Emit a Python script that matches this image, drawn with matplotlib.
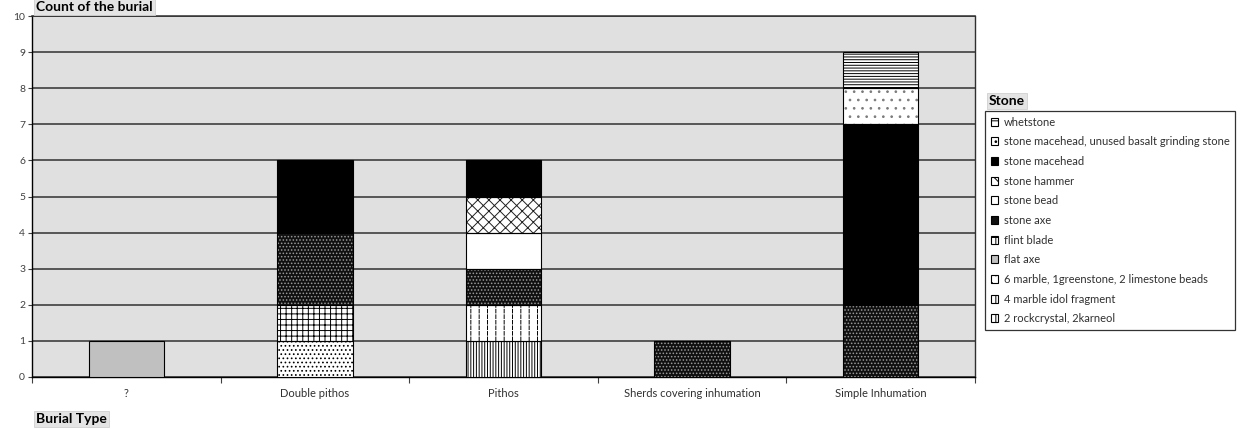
import matplotlib
matplotlib.use("Agg")
import matplotlib.pyplot as plt
from matplotlib.patches import Patch
import numpy as np

plt.rcParams['font.family'] = ['Lato', 'DejaVu Sans']
plt.rcParams['hatch.linewidth'] = 0.7

categories = ['?', 'Double pithos', 'Pithos', 'Sherds covering inhumation', 'Simple Inhumation']

# stone finds per burial type, listed from the bottom of each stack upward
rockcrystal_karneol = [0, 0, 1, 0, 0]
marble_idol_fragment = [0, 0, 1, 0, 0]
marble_greenstone_beads = [0, 1, 0, 0, 0]
flat_axe = [1, 0, 0, 0, 0]
flint_blade = [0, 1, 0, 0, 0]
stone_axe = [0, 2, 1, 1, 2]
stone_bead = [0, 0, 1, 0, 0]
stone_hammer = [0, 0, 1, 0, 0]
stone_macehead = [0, 2, 1, 0, 5]
macehead_basalt_stone = [0, 0, 0, 0, 1]
whetstone = [0, 0, 0, 0, 1]

series_names = ['2 rockcrystal, 2karneol', '4 marble idol fragment',
                '6 marble, 1greenstone, 2 limestone beads', 'flat axe', 'flint blade',
                'stone axe', 'stone bead', 'stone hammer', 'stone macehead',
                'stone macehead, unused basalt grinding stone', 'whetstone']
series_values = [rockcrystal_karneol, marble_idol_fragment, marble_greenstone_beads,
                 flat_axe, flint_blade, stone_axe, stone_bead, stone_hammer,
                 stone_macehead, macehead_basalt_stone, whetstone]

y_ticks = [0, 1, 2, 3, 4, 5, 6, 7, 8, 9, 10]

# fill pattern for each series: face colour, then hatch layers (pattern, colour)
fills = [
    ('white', [('||||||', 'black')]),
    ('white', [('||', 'black'), ('---', 'white')]),
    ('white', [('....', 'black')]),
    ('#c0c0c0', []),
    ('white', [('+++', 'black')]),
    ('#101010', [('.....', '#9a9a9a')]),
    ('white', []),
    ('white', [('xxx', '#202020')]),
    ('black', []),
    ('white', [('..', '#7a7a7a')]),
    ('white', [('------', 'black')]),
]

W, H = 1248, 429
fig = plt.figure(figsize=(W / 100, H / 100), dpi=100)
fig.patch.set_facecolor('white')
ax = fig.add_axes([32 / W, 1 - 377 / H, (975 - 32) / W, (377 - 16) / H])
ax.set_facecolor('#e0e0e0')

x = np.arange(len(categories))
bottom = np.zeros(len(categories))
bar_w = 0.4
for vals, (face, layers) in zip(series_values, fills):
    v = np.array(vals, dtype=float)
    m = v > 0
    ax.bar(x[m], v[m], bar_w, bottom=bottom[m], color=face, linewidth=0, zorder=3)
    for hatch, hc in layers:
        ax.bar(x[m], v[m], bar_w, bottom=bottom[m], facecolor='none',
               edgecolor=hc, hatch=hatch, linewidth=0, zorder=3)
    ax.bar(x[m], v[m], bar_w, bottom=bottom[m], fill=False,
           edgecolor='black', linewidth=0.8, zorder=4)
    bottom += v

ax.set_xlim(-0.5, len(categories) - 0.5)
ax.set_ylim(0, 10)
ax.set_yticks(y_ticks)
ax.yaxis.grid(True, color='#303030', linewidth=1.1, zorder=1)
ax.set_axisbelow(True)
ax.tick_params(axis='y', labelsize=7.5, length=3, width=0.8, pad=2, colors='#404040')
ax.set_xticks(x)
ax.set_xticklabels(categories)
ax.set_xticks(np.arange(-0.5, len(categories)), minor=True)
ax.tick_params(axis='x', which='major', length=0, labelsize=8, pad=8, colors='#303030')
ax.tick_params(axis='x', which='minor', length=4, width=0.8, color='#404040')
for s in ['left', 'bottom']:
    ax.spines[s].set_color('black')
    ax.spines[s].set_linewidth(1.0)
ax.spines['right'].set_color('#303030')
ax.spines['right'].set_linewidth(1.0)
ax.spines['top'].set_color('#303030')
ax.spines['top'].set_linewidth(1.1)

title_box = dict(boxstyle='square,pad=0.15', facecolor='#e4e4e4', edgecolor='#d0d0d0', linewidth=0.6)
fig.text(36 / W, 1 - 7 / H, 'Count of the burial', fontsize=10, fontweight='bold',
         va='center', ha='left', bbox=title_box)
fig.text(36 / W, 1 - 419 / H, 'Burial Type', fontsize=10, fontweight='bold',
         va='center', ha='left', bbox=title_box)
fig.text(989 / W, 1 - 101 / H, 'Stone', fontsize=10, fontweight='bold',
         va='center', ha='left', bbox=title_box)

handles = []
for name, (face, layers) in zip(series_names, fills):
    hatch = layers[0][0][:2] if layers else None
    handles.append(Patch(facecolor=face, edgecolor='black', hatch=hatch, linewidth=0.8, label=name))
handles = handles[::-1]
leg = fig.legend(handles=handles, loc='upper left', bbox_to_anchor=(985 / W, 1 - 111 / H),
                 fontsize=8, frameon=True, fancybox=False, shadow=False,
                 handlelength=0.7, handleheight=0.7, handletextpad=0.5,
                 labelspacing=0.78, borderpad=0.5, borderaxespad=0)
leg.get_frame().set_edgecolor('black')
leg.get_frame().set_linewidth(0.9)
for t in leg.get_texts():
    t.set_color('#303030')

fig.savefig('out.png', dpi=100)
